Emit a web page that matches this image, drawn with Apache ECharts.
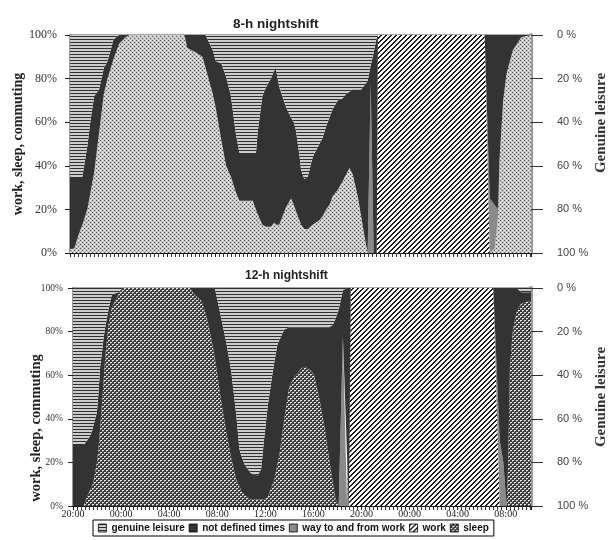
<!DOCTYPE html>
<html><head><meta charset="utf-8">
<script src="https://cdn.jsdelivr.net/npm/echarts/dist/echarts.min.js"></script>
<style>html,body{margin:0;padding:0;background:#fff}#c{width:616px;height:540px}</style>
</head><body><div id="c"></div>
<script>
// ---- tick labels ----
const timeLabels = ['20:00','00:00','04:00','08:00','12:00','16:00','20:00','00:00','04:00','08:00'];
const legendNames = ['genuine leisure','not defined times','way to and from work','work','sleep'];

// ---- 8-h nightshift (hours after 20:00, percent) ----
const hours8 = [0,0.35,0.75,1.02,1.43,1.7,2.0,2.4,2.8,3.1,3.6,4.06,4.6,4.9,9.45,9.7,10.4,10.95,11.2,11.8,12.06,12.5,12.9,13.3,13.7,14.0,15.1,15.37,15.5,15.9,16.2,16.6,16.9,17.0,17.3,17.85,18.27,18.5,18.68,18.96,19.1,19.37,19.65,20.06,20.61,20.89,21.16,21.44,21.71,22.13,22.54,22.82,23.1,23.37,23.78,24.06,24.33,24.6,24.85,25.1,25.35,25.45,34.27,34.69,35.1,35.38,35.5,35.8,36.07,36.6,37.3,38.1];
const sleep8 = [2,2,9,13,20,28,37,55,73,80,89,96,99,100,100,94,92,90,85,73,66,52,40,35,28,24,24,20,18,13,12,12,14,13,13,21,25,22,19,15,13,11,11,13,15,17,20,22,26,29,33,36,39,36,26,17,8,0,0,0,0,0,0,0,2,17,43,70,82,93,99,100];
const work8 = [0,0,0,0,0,0,0,0,0,0,0,0,0,0,0,0,0,0,0,0,0,0,0,0,0,0,0,0,0,0,0,0,0,0,0,0,0,0,0,0,0,0,0,0,0,0,0,0,0,0,0,0,0,0,0,0,0,0,0,0,0,100,100,0,0,0,0,0,0,0,0,0];
const way8 = [0,0,0,0,0,0,0,0,0,0,0,0,0,0,0,0,0,0,0,0,0,0,0,0,0,0,0,0,0,0,0,0,0,0,0,0,0,0,0,0,0,0,0,0,0,0,0,0,0,0,0,0,0,0,0,0,0,0,78,0,0,0,0,25,20,3,0,0,0,0,0,0];
const undef8 = [33,33,26,22,29,33,35,20,12,8,9,4,1,0,0,6,8,10,15,20,22,35,41,37,27,22,22,26,37,59,64,68,70,72,63,46,37,38,37,30,25,23,24,31,35,36,38,40,40,41,38,37,35,39,49,58,69,79,8,92,99,0,0,75,78,80,57,30,18,7,1,0];
const leisure8 = [65,65,65,65,51,39,28,25,15,12,2,0,0,0,0,0,0,0,0,7,12,13,19,28,45,54,54,54,45,28,24,20,16,15,24,33,38,40,44,55,62,66,65,56,50,47,42,38,34,30,29,27,26,25,25,25,23,21,14,8,1,0,0,0,0,0,0,0,0,0,0,0];

// ---- 12-h nightshift ----
const hours12 = [0,0.88,1.3,1.57,1.7,1.99,2.12,2.26,2.4,2.54,2.68,2.95,3.23,3.78,4.1,9.7,10.1,10.7,11.1,11.5,11.8,12.3,12.75,13.16,13.58,13.85,14.0,14.27,14.8,15.37,15.65,15.9,16.2,16.6,16.75,17.0,17.16,17.58,18.0,18.4,18.96,19.3,19.8,20.06,20.5,20.9,21.3,21.6,21.85,22.1,22.45,22.8,22.95,23.1,34.96,35.5,35.8,36.07,36.2,36.35,36.6,36.9,37.3,38.1];
const sleep12 = [0,0,6,9,11,20,26,36,46,57,68,83,91,97,100,100,97,94,87,77,68,49,34,22,12,9,7,5,3,3,3,3,4,10,12,19,23,40,55,59,63,64,62,60,49,37,22,11,3,0,0,0,0,0,0,0,0,0,19,64,81,89,93,94];
const work12 = [0,0,0,0,0,0,0,0,0,0,0,0,0,0,0,0,0,0,0,0,0,0,0,0,0,0,0,0,0,0,0,0,0,0,0,0,0,0,0,0,0,0,0,0,0,0,0,0,0,0,0,0,0,100,100,0,0,0,0,0,0,0,0,0];
const way12 = [0,0,0,0,0,0,0,0,0,0,0,0,0,0,0,0,0,0,0,0,0,0,0,0,0,0,0,0,0,0,0,0,0,0,0,0,0,0,0,0,0,0,0,0,0,0,0,0,0,0,78,0,0,0,0,30,20,0,0,0,0,0,0,0];
const undef12 = [28,28,25,25,26,23,26,28,24,20,14,7,6,1,0,0,3,6,13,23,32,38,41,40,30,17,16,14,12,11,14,28,42,51,54,55,53,41,27,23,19,18,20,22,33,45,60,72,83,90,21,100,100,0,0,70,80,100,81,36,19,11,5,4];
const leisure12 = [72,72,69,66,63,57,48,36,30,23,18,10,3,2,0,0,0,0,0,0,0,13,25,38,58,74,77,81,85,86,83,69,54,39,34,26,24,19,18,18,18,18,18,18,18,18,18,17,14,10,1,0,0,0,0,0,0,0,0,0,0,0,2,2];

// ---- patterns ----
function makeTile(w, h, pix) {
  const c = document.createElement('canvas'); c.width = w; c.height = h;
  const ctx = c.getContext('2d'); const im = ctx.createImageData(w, h);
  for (let y = 0; y < h; y++) for (let x = 0; x < w; x++) {
    const g = pix(x, y); const i = (y * w + x) * 4;
    im.data[i] = im.data[i + 1] = im.data[i + 2] = g; im.data[i + 3] = 255;
  }
  ctx.putImageData(im, 0, 0);
  return { image: c, repeat: 'repeat' };
}
const pLeisure = makeTile(4, 3, (x, y) => y === 0 ? 0x30 : 0xcc);
const pWork = makeTile(5, 5, (x, y) => ((x + y) % 5) < 2 ? 0x1e : 0xff);
const pSleepTop = makeTile(4, 4, (x, y) => {
  if ((x === 0 && y === 0) || (x === 2 && y === 2)) return 0x55;
  if ((x === 2 && y === 0) || (x === 0 && y === 2)) return 0xf4;
  return 0xc6;
});
const pSleepBot = makeTile(4, 4, (x, y) => {
  if ((y === 0 && (x === 0 || x === 1)) || (y === 2 && (x === 2 || x === 3))) return 0xe8;
  if ((y === 1 && x === 0) || (y === 3 && x === 2)) return 0x9c;
  return 0x3a;
});
const cUndef = '#333333';
const cWay = '#8a8a8a';

// value placed first so that the stacked dimension is the percentage (y), not the hour (x)
function mk(name, hours, vals, fill, stack, ai) {
  return {
    name, type: 'line', stack, xAxisIndex: ai, yAxisIndex: ai * 2,
    symbol: 'none', showSymbol: false, smooth: false, silent: true,
    dimensions: [{ name: 'pct', type: 'float' }, { name: 'hour', type: 'float' }],
    encode: { x: 'hour', y: 'pct' },
    lineStyle: { width: 0, opacity: 0 },
    itemStyle: { color: '#666' },
    areaStyle: { color: fill, opacity: 1 },
    data: hours.map((h, i) => [vals[i], h])
  };
}

const xMax = 38.1;
function xAx(gi, showLabels) {
  return {
    type: 'value', gridIndex: gi, min: 0, max: xMax, interval: 4,
    axisLine: { show: true, lineStyle: { color: '#111', width: 1 } },
    axisTick: { show: true, length: 4, lineStyle: { color: '#222' } },
    minorTick: { show: true, splitNumber: 12, length: 4, lineStyle: { color: '#333' } },
    splitLine: { show: false }, minorSplitLine: { show: false },
    axisLabel: { show: showLabels, margin: 3, fontFamily: 'Liberation Serif', fontSize: 10, color: '#222',
      formatter: v => timeLabels[Math.round(v / 4)] || '' }
  };
}
function yLeft(gi, fs, gap, padding, nameSize, margin) {
  return {
    type: 'value', gridIndex: gi, min: 0, max: 100, interval: 20, position: 'left',
    axisLine: { show: true, lineStyle: { color: '#9a9a9a', width: 3 } },
    axisTick: { show: true, length: 5, lineStyle: { color: '#222' } },
    splitLine: { show: false },
    axisLabel: { formatter: '{value}%', fontFamily: 'Liberation Serif', fontSize: fs, color: '#333', margin },
    name: 'work, sleep, commuting', nameLocation: 'middle', nameGap: gap, nameRotate: 90, nameMoveOverlap: false,
    nameTextStyle: { fontFamily: 'Liberation Serif', fontWeight: 'bold', fontSize: nameSize, color: '#222', padding }
  };
}
function yRight(gi, padding) {
  return {
    type: 'value', gridIndex: gi, min: 0, max: 100, interval: 20, position: 'right', inverse: true,
    axisLine: { show: true, lineStyle: { color: '#9a9a9a', width: 4 } },
    axisTick: { show: true, length: 12, lineStyle: { color: '#333' } },
    splitLine: { show: false },
    axisLabel: { formatter: '{value} %', fontFamily: 'Liberation Sans', fontSize: 11, color: '#444', margin: 26 },
    name: 'Genuine leisure', nameLocation: 'middle', nameGap: 63, nameRotate: 90, nameMoveOverlap: false,
    nameTextStyle: { fontFamily: 'Liberation Serif', fontWeight: 'bold', fontSize: 15, color: '#333', padding }
  };
}

const legendFill = { 'genuine leisure': pLeisure, 'not defined times': cUndef, 'way to and from work': cWay, 'work': pWork, 'sleep': pSleepBot };

const option = {
  animation: false,
  backgroundColor: '#fff',
  title: [
    { text: '8-h nightshift', left: 228, top: 12, textStyle: { fontFamily: 'Liberation Sans', fontWeight: 'bold', fontSize: 13.5, color: '#222' } },
    { text: '12-h nightshift', left: 240, top: 265, textStyle: { fontFamily: 'Liberation Sans', fontWeight: 'bold', fontSize: 12, color: '#222' } }
  ],
  grid: [
    { left: 70, right: 85, top: 35, height: 218, containLabel: false, outerBoundsMode: 'none', show: true, borderColor: '#555', borderWidth: 1, backgroundColor: 'transparent' },
    { left: 73, right: 85, top: 288, height: 218, containLabel: false, outerBoundsMode: 'none', show: true, borderColor: '#555', borderWidth: 1, backgroundColor: 'transparent' }
  ],
  xAxis: [xAx(0, false), xAx(1, true)],
  yAxis: [
    yLeft(0, 12, 45, [0, 0, 0, 0], 14, 13), yRight(0, [0, 0, 0, 42]),
    yLeft(1, 9.5, 29, [0, 62, 0, 0], 14.5, 10), yRight(1, [0, 0, 0, 0])
  ],
  legend: {
    left: 93, top: 520, orient: 'horizontal', icon: 'rect',
    itemWidth: 8, itemHeight: 8, itemGap: 4,
    padding: [3, 5, 3, 5], borderColor: '#000', borderWidth: 1, backgroundColor: '#fff',
    selectedMode: false,
    textStyle: { fontFamily: 'Liberation Sans', fontWeight: 'bold', fontSize: 10, color: '#111' },
    data: legendNames.map(n => ({ name: n, icon: 'rect', itemStyle: { color: legendFill[n], borderColor: '#000', borderWidth: 0.8 } }))
  },
  series: [
    mk('sleep', hours8, sleep8, pSleepTop, 'a', 0),
    mk('work', hours8, work8, pWork, 'a', 0),
    mk('way to and from work', hours8, way8, cWay, 'a', 0),
    mk('not defined times', hours8, undef8, cUndef, 'a', 0),
    mk('genuine leisure', hours8, leisure8, pLeisure, 'a', 0),
    mk('sleep', hours12, sleep12, pSleepBot, 'b', 1),
    mk('work', hours12, work12, pWork, 'b', 1),
    mk('way to and from work', hours12, way12, cWay, 'b', 1),
    mk('not defined times', hours12, undef12, cUndef, 'b', 1),
    mk('genuine leisure', hours12, leisure12, pLeisure, 'b', 1)
  ]
};
const chart = echarts.init(document.getElementById('c'), null, { renderer: 'canvas' });
chart.setOption(option);
</script></body></html>
